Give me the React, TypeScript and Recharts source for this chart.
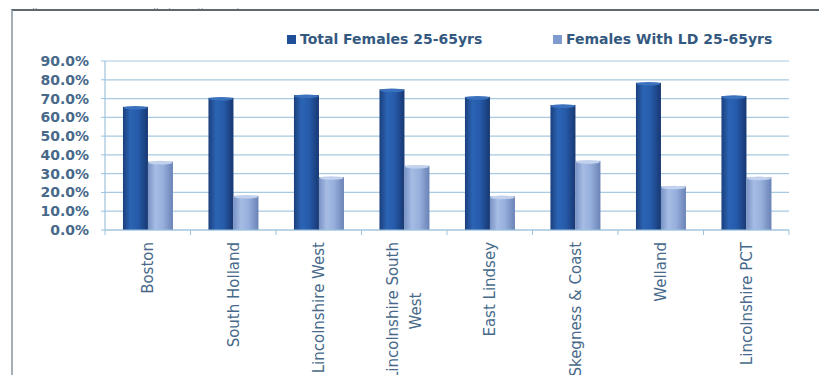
import { Bar, BarChart, CartesianGrid, Legend, XAxis, YAxis } from "recharts";

const areas = [
  "Boston",
  "South Holland",
  "Lincolnshire West",
  "Lincolnshire South\nWest",
  "East Lindsey",
  "Skegness & Coast",
  "Welland",
  "Lincolnshire PCT",
];
const totalFemales = [65.6, 70.4, 71.8, 74.9, 70.9, 66.5, 78.4, 71.3];
const femalesWithLd = [36.4, 18.2, 28.2, 34.2, 17.9, 36.8, 23.2, 28.0];
const yTicks = [0, 10, 20, 30, 40, 50, 60, 70, 80, 90];
const seriesNames = ["Total Females 25-65yrs", "Females With LD 25-65yrs"];

const data = areas.map((area, i) => ({
  area,
  total: totalFemales[i],
  ld: femalesWithLd[i],
}));

const W = 827;
const H = 383;
const PLOT_LEFT = 105;
const PLOT_RIGHT = 789;
const BAND = (PLOT_RIGHT - PLOT_LEFT) / areas.length;
const AXIS_COLOR = "#9FC3DC";
const TEXT_COLOR = "#47698A";
const FONT = '"DejaVu Sans", sans-serif';
const LABEL_SIZE = 15;
const swatches = ["#1F4F98", "#7F9BCF"];
const legendLeft = [287, 553];

let measureCtx: CanvasRenderingContext2D | null = null;
const textWidth = (s: string) => {
  if (!measureCtx) measureCtx = document.createElement("canvas").getContext("2d");
  if (!measureCtx) return s.length * LABEL_SIZE * 0.6;
  measureCtx.font = `${LABEL_SIZE}px "DejaVu Sans"`;
  return measureCtx.measureText(s).width;
};

// rotated category label, top-aligned under the axis, wrapped lines centred
const AreaTick = (props: any) => {
  const { x, y, payload, index } = props;
  const lines = String(payload.value).split("\n");
  const w = Math.max(...lines.map(textWidth));
  const gap = 23;
  return (
    <g>
      {index === 0 && (
        <line x1={x - BAND / 2} x2={x - BAND / 2} y1={y} y2={y + 5} stroke={AXIS_COLOR} />
      )}
      <line x1={x + BAND / 2} x2={x + BAND / 2} y1={y} y2={y + 5} stroke={AXIS_COLOR} />
      <g transform={`translate(${x},${y + 12}) rotate(-90)`}>
        {lines.map((line, i) => (
          <text
            key={i}
            x={-w / 2}
            y={(i - (lines.length - 1) / 2) * gap}
            dy="0.36em"
            textAnchor="middle"
            fontFamily={FONT}
            fontSize={LABEL_SIZE}
            fill={TEXT_COLOR}
          >
            {line}
          </text>
        ))}
      </g>
    </g>
  );
};

const CylinderBar = (props: any) => {
  const { x, y, width, height, fill, cap } = props;
  if (!height || height <= 0) return null;
  return (
    <g>
      <rect x={x} y={y} width={width} height={height} fill={fill} />
      <ellipse cx={x + width / 2} cy={y + 1} rx={width / 2 - 0.5} ry={1.8} fill={cap} />
    </g>
  );
};

const renderLegend = () => (
  <div style={{ position: "relative", height: 16 }}>
    {seriesNames.map((name, i) => (
      <div
        key={name}
        style={{
          position: "absolute",
          left: legendLeft[i],
          top: 0,
          display: "flex",
          alignItems: "center",
          height: 16,
          whiteSpace: "nowrap",
        }}
      >
        <span style={{ width: 9, height: 9, background: swatches[i], marginRight: 4 }} />
        <span style={{ fontFamily: FONT, fontWeight: "bold", fontSize: 14, color: "#34597F" }}>{name}</span>
      </div>
    ))}
  </div>
);

export default function App() {
  return (
    <div style={{ position: "relative", width: W, height: H, margin: -8, background: "#fff", overflow: "hidden" }}>
      <div
        style={{
          position: "absolute",
          left: 25,
          top: 0,
          fontFamily: '"Open Sans", sans-serif',
          fontStyle: "italic",
          fontSize: 8,
          lineHeight: "9px",
          letterSpacing: 1.2,
          color: "#777",
          whiteSpace: "nowrap",
        }}
      >
        Figure 11: Cervical screening uptake (females)
      </div>
      <div
        style={{
          position: "absolute",
          left: 11,
          top: 9,
          right: -10,
          bottom: -10,
          borderLeft: "2px solid #A5AEB6",
          borderTop: "2px solid #5D6871",
        }}
      />
      <div style={{ position: "absolute", left: 0, top: 0 }}>
        <BarChart
          width={W}
          height={H}
          data={data}
          margin={{ top: 61, right: W - PLOT_RIGHT, left: 0, bottom: 0 }}
          barGap={0}
          barCategoryGap="21%"
        >
          <defs>
            <linearGradient id="gradDark" x1="0" y1="0" x2="1" y2="0">
              <stop offset="0%" stopColor="#1B3F7D" />
              <stop offset="30%" stopColor="#2B64B4" />
              <stop offset="60%" stopColor="#265BAA" />
              <stop offset="100%" stopColor="#183872" />
            </linearGradient>
            <linearGradient id="gradLight" x1="0" y1="0" x2="1" y2="0">
              <stop offset="0%" stopColor="#7892C5" />
              <stop offset="30%" stopColor="#A6BCE4" />
              <stop offset="60%" stopColor="#97AFDC" />
              <stop offset="100%" stopColor="#6A83B6" />
            </linearGradient>
          </defs>
          <CartesianGrid vertical={false} stroke="#A8CAE1" strokeWidth={1.2} />
          <XAxis
            dataKey="area"
            height={153}
            interval={0}
            tickSize={0}
            tickMargin={0}
            axisLine={{ stroke: AXIS_COLOR, strokeWidth: 1.2 }}
            tickLine={false}
            tick={<AreaTick />}
          />
          <YAxis
            width={PLOT_LEFT}
            domain={[0, 90]}
            ticks={yTicks}
            interval={0}
            tickSize={4}
            tickMargin={12}
            tickFormatter={(v: number) => `${v.toFixed(1)}%`}
            axisLine={{ stroke: AXIS_COLOR, strokeWidth: 1.2 }}
            tickLine={{ stroke: AXIS_COLOR }}
            tick={{ fontFamily: FONT, fontWeight: "bold", fontSize: 14, fill: TEXT_COLOR }}
          />
          <Legend
            layout="horizontal"
            verticalAlign="middle"
            align="center"
            wrapperStyle={{ top: 31, left: 0, width: W, height: 16 }}
            content={renderLegend}
          />
          <Bar
            dataKey="total"
            name={seriesNames[0]}
            fill="url(#gradDark)"
            shape={<CylinderBar cap="#3A72BE" />}
            isAnimationActive={false}
          />
          <Bar
            dataKey="ld"
            name={seriesNames[1]}
            fill="url(#gradLight)"
            shape={<CylinderBar cap="#C2D2EE" />}
            isAnimationActive={false}
          />
        </BarChart>
      </div>
    </div>
  );
}
